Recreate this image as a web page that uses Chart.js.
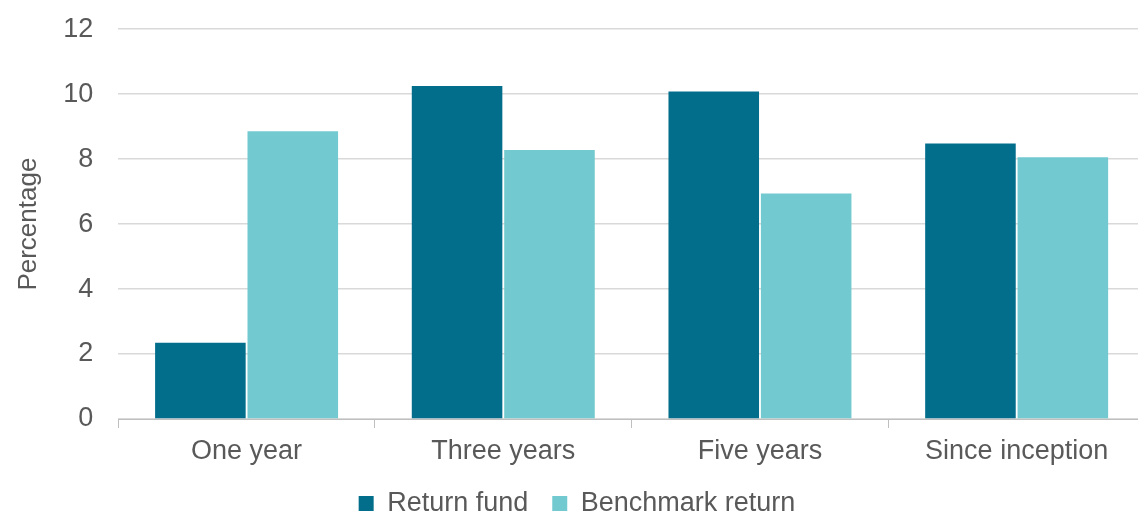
<!DOCTYPE html>
<html>
<head>
<meta charset="utf-8">
<script src="https://cdn.jsdelivr.net/npm/chart.js@4.4.1/dist/chart.umd.min.js"></script>
<style>
  html, body { margin: 0; padding: 0; background: #fff; overflow: hidden; }
  #wrap { width: 1188px; height: 513px; }
</style>
</head>
<body>
<div id="wrap"><canvas id="barChart"></canvas></div>
<script>
var categories = ["One year", "Three years", "Five years", "Since inception"];
var returnFund = [2.35, 10.25, 10.08, 8.48];
var benchmarkReturn = [8.86, 8.28, 6.94, 8.06];
var yTicks = [0, 2, 4, 6, 8, 10, 12];

var barData = {
    labels: categories,
    datasets: [
        {
            label: "Return fund",
            backgroundColor: "#036e8b",
            data: returnFund
        }, {
            label: "Benchmark return",
            backgroundColor: "#72cad0",
            data: benchmarkReturn
        }
    ]
};

var barOptions = {
    responsive: true,
    maintainAspectRatio: false,
    animation: false,
    layout: { padding: { left: 9, right: 43, top: 0, bottom: 0 } },
    datasets: { bar: { categoryPercentage: 0.72, barPercentage: 0.98 } },
    scales: {
        x: {
            grid: { display: true, drawOnChartArea: false, drawTicks: true, tickLength: 9, offset: true, color: "#bfbfbf" },
            border: { display: true, color: "#bfbfbf" },
            ticks: { color: "#595959", font: { family: "Liberation Sans", size: 27, lineHeight: 1 }, padding: 10 },
            afterFit: function (scale) { scale.height = 47; }
        },
        y: {
            min: 0,
            max: 12,
            afterBuildTicks: function (axis) {
                axis.ticks = yTicks.map(function (v) { return { value: v }; });
            },
            grid: { color: "#d9d9d9", lineWidth: 1.5, drawTicks: true, tickLength: 12, tickColor: "rgba(0,0,0,0)" },
            border: { display: false },
            ticks: { color: "#595959", font: { family: "Liberation Sans", size: 27 }, padding: 13 },
            title: { display: true, text: "Percentage", color: "#595959", font: { family: "Liberation Sans", size: 26 }, padding: { top: 4, bottom: 6 } }
        }
    },
    plugins: {
        legend: {
            position: "bottom",
            maxHeight: 47,
            labels: { color: "#595959", font: { family: "Liberation Sans", size: 27 }, boxWidth: 15, boxHeight: 15, padding: 24 }
        },
        tooltip: { enabled: false }
    }
};

var ctx = document.getElementById("barChart").getContext("2d");
new Chart(ctx, { type: 'bar', data: barData, options: barOptions });
</script>
</body>
</html>
